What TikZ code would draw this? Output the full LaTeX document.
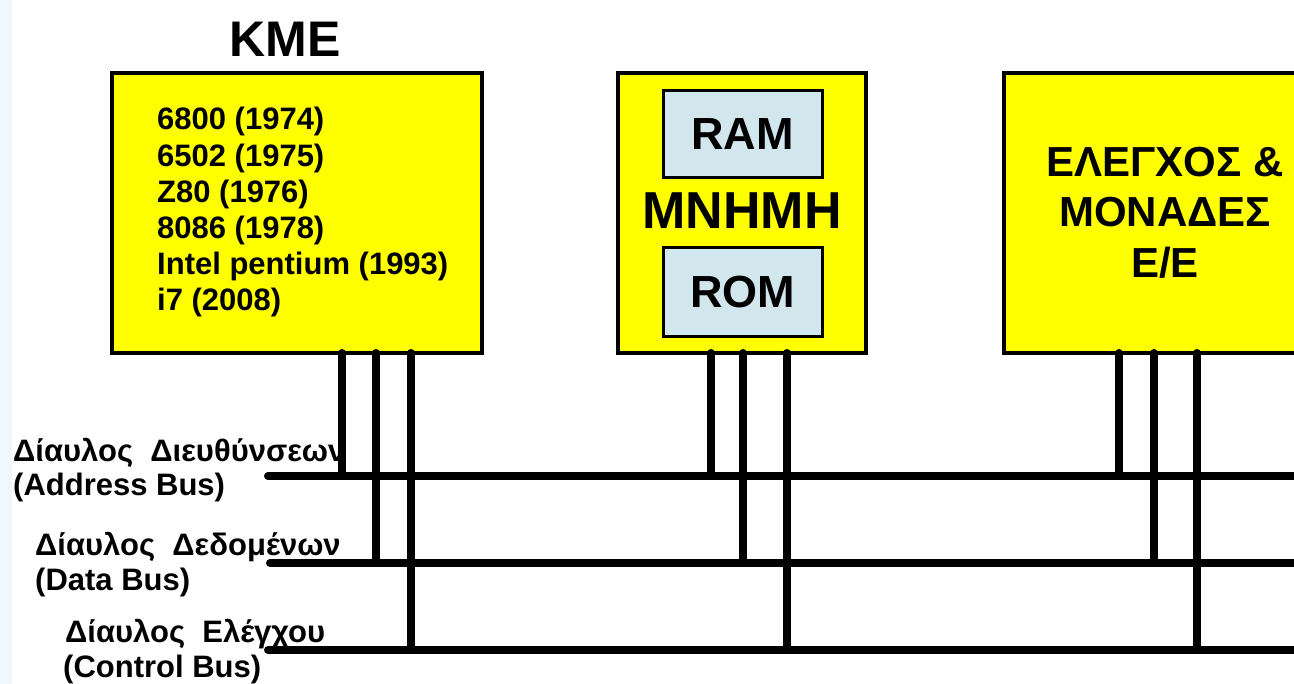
\documentclass[tikz,border=0pt]{standalone}
\usepackage{fontspec}
\setmainfont{Liberation Sans}
\definecolor{boxyellow}{RGB}{255,255,0}
\definecolor{memblue}{RGB}{210,230,238}
\definecolor{paleside}{RGB}{240,247,253}
\begin{document}
\begin{tikzpicture}[x=1pt,y=-1pt,
  unitbox/.style={draw=black,line width=4pt,fill=boxyellow,rectangle,outer sep=0pt,inner sep=0pt},
  subbox/.style={draw=black,line width=3pt,fill=memblue,rectangle,outer sep=0pt,inner sep=0pt},
  bustext/.style={font=\bfseries\fontsize{31}{36}\selectfont,inner sep=0pt,anchor=base west},
  listtext/.style={font=\bfseries\fontsize{31}{36}\selectfont,inner sep=0pt,anchor=base west},
  busline/.style={line width=8pt,line cap=round},
  stubline/.style={line width=8pt,line cap=round}]
\useasboundingbox (0,0) rectangle (1294,684);
\clip (0,0) rectangle (1294,684);
\fill[white] (0,0) rectangle (1294,684);
\fill[paleside] (0,0) rectangle (12,684);

% units
\node[unitbox,minimum width=370pt,minimum height=280pt] (kme) at (297,213) {};
\node[font=\bfseries\fontsize{50}{56}\selectfont,inner sep=0pt] (kmetitle) at (285,39) {KME};
\foreach \t [count=\i] in {6800 (1974),6502 (1975),Z80 (1976),8086 (1978),Intel pentium (1993),i7 (2008)}
  \node[listtext] (l\i) at (157,{130+36.2*(\i-1)}) {\t};

\node[unitbox,minimum width=248pt,minimum height=280pt] (mem) at (742,213) {};
\node[subbox,minimum width=159pt,minimum height=87pt] (ram) at (742.5,134.5) {};
\node[subbox,minimum width=159pt,minimum height=89pt] (rom) at (742.5,292.5) {};
\node[font=\bfseries\fontsize{45}{50}\selectfont,inner sep=0pt] (ramt) at (ram.center) {RAM};
\node[font=\bfseries\fontsize{45}{50}\selectfont,inner sep=0pt] (romt) at (rom.center) {ROM};
\node[font=\bfseries\fontsize{52}{58}\selectfont,inner sep=0pt] (memt) at (742,211) {MNHMH};

\node[unitbox,minimum width=316pt,minimum height=280pt] (io) at (1162,213) {};
\node[font=\bfseries\fontsize{42}{50.5}\selectfont,inner sep=0pt,align=center] (iot) at (1165,212.5) {ΕΛΕΓΧΟΣ \&\\ΜΟΝΑΔΕΣ\\Ε/Ε};

% bus labels
\node[bustext] (b1) at (13,462) {Δίαυλος~~Διευθύνσεων};
\node[bustext] (b2) at (13,496) {(Address Bus)};
\node[bustext] (b3) at (35,555) {Δίαυλος~~Δεδομένων};
\node[bustext] (b4) at (35,590) {(Data Bus)};
\node[bustext] (b5) at (65,642) {Δίαυλος~~Ελέγχου};
\node[bustext] (b6) at (63,677) {(Control Bus)};

% buses
\coordinate (as) at (268,476); \coordinate (ae) at (1310,476);
\coordinate (ds) at (270,563); \coordinate (de) at (1310,563);
\coordinate (cs) at (268,650); \coordinate (ce) at (1310,650);
\draw[busline] (as) -- (ae);
\draw[busline] (ds) -- (de);
\draw[busline] (cs) -- (ce);

% junctions
\coordinate (ka) at (342,476); \coordinate (kd) at (376,563); \coordinate (kc) at (411,650);
\coordinate (ma) at (711,476); \coordinate (md) at (743,563); \coordinate (mc) at (787,650);
\coordinate (ia) at (1119,476); \coordinate (id) at (1154,563); \coordinate (ic) at (1197,650);
\foreach \u/\p in {kme/k,mem/m,io/i}{
  \draw[stubline] (\u.south -| \p a) -- (\p a);
  \draw[stubline] (\u.south -| \p d) -- (\p d);
  \draw[stubline] (\u.south -| \p c) -- (\p c);
}
\end{tikzpicture}
\end{document}
